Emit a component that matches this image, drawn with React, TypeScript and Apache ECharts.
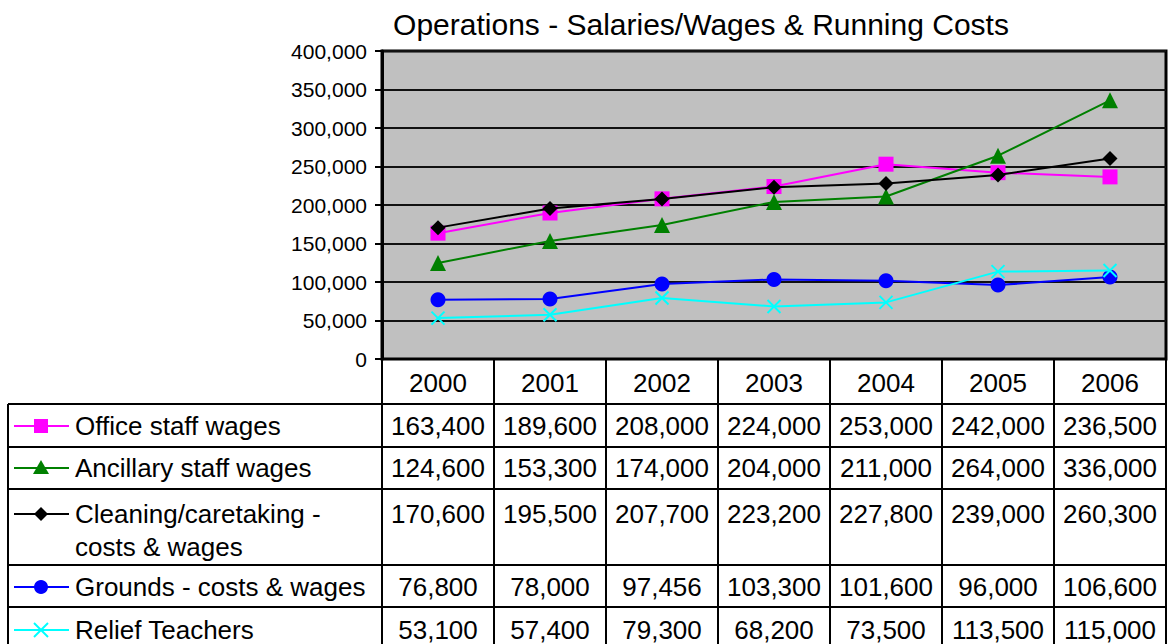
import React, { useEffect, useRef } from "react";
import * as echarts from "echarts";

const years = ["2000", "2001", "2002", "2003", "2004", "2005", "2006"];
const seriesNames = [
  "Office staff wages",
  "Ancillary staff wages",
  "Cleaning/caretaking -\ncosts & wages",
  "Grounds - costs & wages",
  "Relief Teachers",
];
const officeStaff = [163400, 189600, 208000, 224000, 253000, 242000, 236500];
const ancillaryStaff = [124600, 153300, 174000, 204000, 211000, 264000, 336000];
const cleaning = [170600, 195500, 207700, 223200, 227800, 239000, 260300];
const grounds = [76800, 78000, 97456, 103300, 101600, 96000, 106600];
const relief = [53100, 57400, 79300, 68200, 73500, 113500, 115000];
const yTicks = { min: 0, max: 400000, interval: 50000 };
const title = "Operations - Salaries/Wages & Running Costs";

const FONT = "'Liberation Sans', Arial, sans-serif";
const colors = ["#FF00FF", "#008000", "#000000", "#0000FF", "#00FFFF"];
const symbols = [
  "rect",
  "triangle",
  "diamond",
  "circle",
  "path://M0,0L10,10M10,0L0,10",
];
const dataSets = [officeStaff, ancillaryStaff, cleaning, grounds, relief];

const fmt = (v: number) =>
  v.toString().replace(/\B(?=(\d{3})+(?!\d))/g, ",");

export default function App() {
  const ref = useRef<HTMLDivElement>(null);
  useEffect(() => {
    if (!ref.current) return;
    const chart = echarts.init(ref.current, undefined, { renderer: "svg" });

    const W = 1168;
    const plotLeft = 382;
    const plotRight = 1166;
    const plotTop = 51;
    const plotBottom = 359;
    const colW = (plotRight - plotLeft) / years.length;
    const rowEdges = [359, 404, 447, 489, 565, 607, 652];
    const tableLeft = 8;

    const graphic: any[] = [];
    const lineStyle = { stroke: "#000", lineWidth: 2 };
    for (let i = 1; i < rowEdges.length; i++) {
      graphic.push({
        type: "line",
        shape: { x1: tableLeft, y1: rowEdges[i], x2: plotRight, y2: rowEdges[i] },
        style: lineStyle,
        z: 10,
      });
    }
    graphic.push({
      type: "line",
      shape: { x1: tableLeft, y1: rowEdges[1], x2: tableLeft, y2: rowEdges[6] },
      style: lineStyle,
      z: 10,
    });
    for (let c = 0; c <= years.length; c++) {
      const x = plotLeft + c * colW;
      graphic.push({
        type: "line",
        shape: { x1: x, y1: plotBottom, x2: x, y2: rowEdges[6] },
        style: lineStyle,
        z: 10,
      });
    }
    years.forEach((y, c) => {
      graphic.push({
        type: "text",
        x: plotLeft + (c + 0.5) * colW,
        y: (rowEdges[0] + rowEdges[1]) / 2 + 1,
        style: {
          text: y,
          font: `26px ${FONT}`,
          fill: "#000",
          align: "center",
          verticalAlign: "middle",
        },
        z: 11,
      });
    });
    const firstLineY = [426, 468, 514, 587, 630];
    dataSets.forEach((data, r) => {
      const ty = firstLineY[r];
      const kx = 41;
      graphic.push({
        type: "line",
        shape: { x1: 14, y1: ty, x2: 69, y2: ty },
        style: { stroke: colors[r], lineWidth: 2 },
        z: 11,
      });
      const s = 7;
      if (r === 0) {
        graphic.push({ type: "rect", shape: { x: kx - s, y: ty - s, width: 2 * s, height: 2 * s }, style: { fill: colors[r] }, z: 12 });
      } else if (r === 1) {
        graphic.push({ type: "polygon", shape: { points: [[kx, ty - 8], [kx + 8, ty + 6], [kx - 8, ty + 6]] }, style: { fill: colors[r] }, z: 12 });
      } else if (r === 2) {
        graphic.push({ type: "polygon", shape: { points: [[kx, ty - 7], [kx + 7, ty], [kx, ty + 7], [kx - 7, ty]] }, style: { fill: colors[r] }, z: 12 });
      } else if (r === 3) {
        graphic.push({ type: "circle", shape: { cx: kx, cy: ty, r: 7 }, style: { fill: colors[r] }, z: 12 });
      } else {
        graphic.push({ type: "line", shape: { x1: kx - 7, y1: ty - 7, x2: kx + 7, y2: ty + 7 }, style: { stroke: colors[r], lineWidth: 2 }, z: 12 });
        graphic.push({ type: "line", shape: { x1: kx + 7, y1: ty - 7, x2: kx - 7, y2: ty + 7 }, style: { stroke: colors[r], lineWidth: 2 }, z: 12 });
      }
      graphic.push({
        type: "text",
        x: 75,
        y: ty - 17,
        style: {
          text: seriesNames[r],
          font: `26px ${FONT}`,
          fill: "#000",
          align: "left",
          verticalAlign: "top",
          lineHeight: 33,
        },
        z: 11,
      });
      data.forEach((v, c) => {
        graphic.push({
          type: "text",
          x: plotLeft + (c + 0.5) * colW,
          y: ty,
          style: {
            text: fmt(v),
            font: `26px ${FONT}`,
            fill: "#000",
            align: "center",
            verticalAlign: "middle",
          },
          z: 11,
        });
      });
    });
    graphic.push({
      type: "text",
      x: 701,
      y: 24,
      style: {
        text: title,
        font: `30px ${FONT}`,
        fill: "#000",
        align: "center",
        verticalAlign: "middle",
      },
    });

    chart.setOption({
      animation: false,
      grid: {
        left: plotLeft,
        right: W - plotRight,
        top: plotTop,
        bottom: 644 - plotBottom,
        show: true,
        backgroundColor: "#C0C0C0",
        borderColor: "#000",
        borderWidth: 3,
      },
      xAxis: {
        type: "category",
        data: years,
        boundaryGap: true,
        axisLine: { show: true, lineStyle: { color: "#000", width: 2 } },
        axisTick: { show: false },
        axisLabel: { show: false },
        splitLine: { show: false },
      },
      yAxis: {
        type: "value",
        min: yTicks.min,
        max: yTicks.max,
        interval: yTicks.interval,
        axisLine: { show: true, lineStyle: { color: "#000", width: 3 } },
        axisTick: { show: true, length: 7, lineStyle: { color: "#000", width: 2 } },
        axisLabel: {
          color: "#000",
          fontSize: 21,
          fontFamily: FONT,
          margin: 15,
          formatter: (v: number) => fmt(v),
        },
        splitLine: { show: true, lineStyle: { color: "#111", width: 2 } },
      },
      series: dataSets.map((d, i) => ({
        name: seriesNames[i],
        type: "line",
        data: d,
        symbol: symbols[i],
        symbolSize: i === 1 ? 16 : i === 4 ? 13 : 15,
        symbolKeepAspect: true,
        showAllSymbol: true,
        lineStyle: { color: colors[i], width: 2 },
        itemStyle: {
          color: i === 4 ? "none" : colors[i],
          borderColor: colors[i],
          borderWidth: i === 4 ? 2 : 0,
        },
        z: 2 + i,
      })),
      graphic,
    });
    return () => chart.dispose();
  }, []);
  return <div ref={ref} style={{ width: 1168, height: 644, position: "absolute", left: 0, top: 0 }} />;
}
